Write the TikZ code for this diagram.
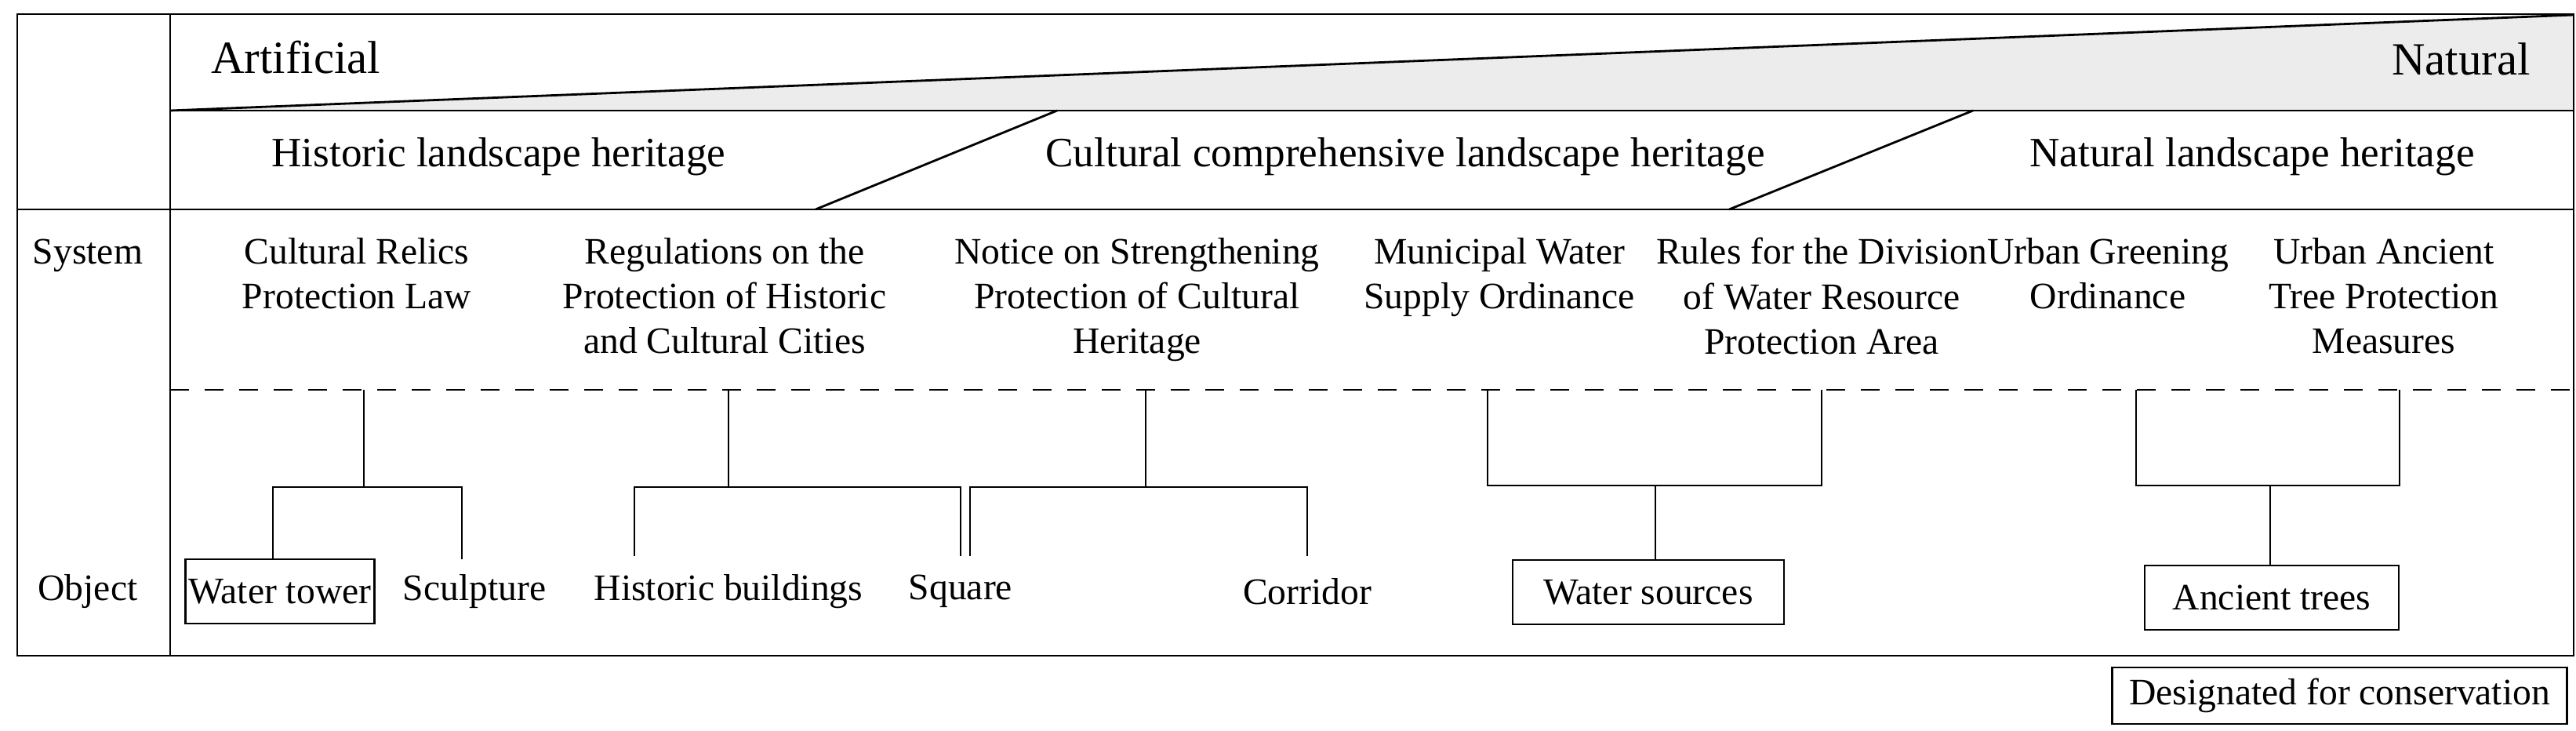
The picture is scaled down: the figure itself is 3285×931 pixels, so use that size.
\documentclass[tikz,border=0pt]{standalone}
\usepackage{fontspec}
\setmainfont{Liberation Serif}
\begin{document}
\begin{tikzpicture}[x=0.25pt,y=-0.25pt,line width=0.7pt,
  txt/.style={inner sep=0pt,font=\fontsize{13.3}{14.3}\selectfont,align=center},
  sm/.style={txt,font=\fontsize{11.9}{14.3}\selectfont},
  sys/.style={sm,anchor=north},
  box/.style={sm,draw,minimum height=20.5pt,inner xsep=1pt},
  br/.style={line width=0.6pt}]
\useasboundingbox (0,0) rectangle (3285,931);
\fill[gray!15] (217,141) -- (3282,19) -- (3282,141) -- cycle;
\draw (217,141) -- (3282,19);
\draw (22,18) rectangle (3282,836);
\draw (217,18) -- (217,836);
\draw (217,141) -- (3282,141);
\draw (22,267) -- (3282,267);
\draw (1348,141) -- (1040,267);
\draw (2516,141) -- (2205,267);
\draw[dashed,dash pattern=on 6pt off 5pt] (217,497) -- (3282,497);
% header texts
\node[txt,anchor=west,font=\fontsize{14.7}{16}\selectfont] (art) at (268,73) {Artificial};
\node[txt,anchor=east,font=\fontsize{14.7}{16}\selectfont] (nat) at (3228,75) {Natural};
\node[txt] (hlh) at (636,200) {Historic landscape heritage};
\node[txt] (clh) at (1792,200) {Cultural comprehensive landscape heritage};
\node[txt] (nlh) at (2872,200) {Natural landscape heritage};
\node[sm] (sysl) at (112,326) {System};
\node[sm] (objl) at (112,754) {Object};
% systems
\node[sys] (s1) at (455,302) {Cultural Relics\\Protection Law};
\node[sys] (s2) at (924,302) {Regulations on the\\Protection of Historic\\and Cultural Cities};
\node[sys] (s3) at (1450,302) {Notice on Strengthening\\Protection of Cultural\\Heritage};
\node[sys] (s4) at (1912,302) {Municipal Water\\Supply Ordinance};
\node[sys] (s5) at (2323,302) {Rules for the Division\\of Water Resource\\Protection Area};
\node[sys] (s6) at (2688,302) {Urban Greening\\Ordinance};
\node[sys] (s7) at (3040,302) {Urban Ancient\\Tree Protection\\Measures};
% objects
\node[box,minimum width=59.5pt] (o1) at (357,754) {Water tower};
\node[sm] (o2) at (605,754) {Sculpture};
\node[sm] (o3) at (929,754) {Historic buildings};
\node[sm] (o4) at (1225,754) {Square};
\node[sm] (o5) at (1667,754) {Corridor};
\node[box,minimum width=86.5pt] (o6) at (2102,755) {Water sources};
\node[box,minimum width=81pt] (o7) at (2897,762) {Ancient trees};
\node[box,minimum width=145pt,anchor=east,minimum height=18pt] (leg) at (3275,887) {Designated for conservation};
% connectors
\coordinate (g1) at (464,497); \coordinate (g2) at (929,497);
\coordinate (g3) at (1461,497); \coordinate (g4a) at (1897,497);
\coordinate (g4b) at (2323,497); \coordinate (g5a) at (2724,497);
\coordinate (g5b) at (3060,497);
\draw[br] (g1) -- (464,621);
\draw[br] (o1.north -| 348,0) -- (348,621) -- (589,621) -- (589,713);
\draw[br] (g2) -- (929,621);
\draw[br] (809,709) -- (809,621) -- (1225,621) -- (1225,709);
\draw[br] (g3) -- (1461,621);
\draw[br] (1237,709) -- (1237,621) -- (1667,621) -- (1667,709);
\draw[br] (g4a) -- (1897,619) -- (2323,619) -- (g4b);
\draw[br] (2111,619) -- (o6.north -| 2111,0);
\draw[br] (g5a) -- (2724,619) -- (3060,619) -- (g5b);
\draw[br] (2895,619) -- (o7.north -| 2895,0);
\end{tikzpicture}
\end{document}
